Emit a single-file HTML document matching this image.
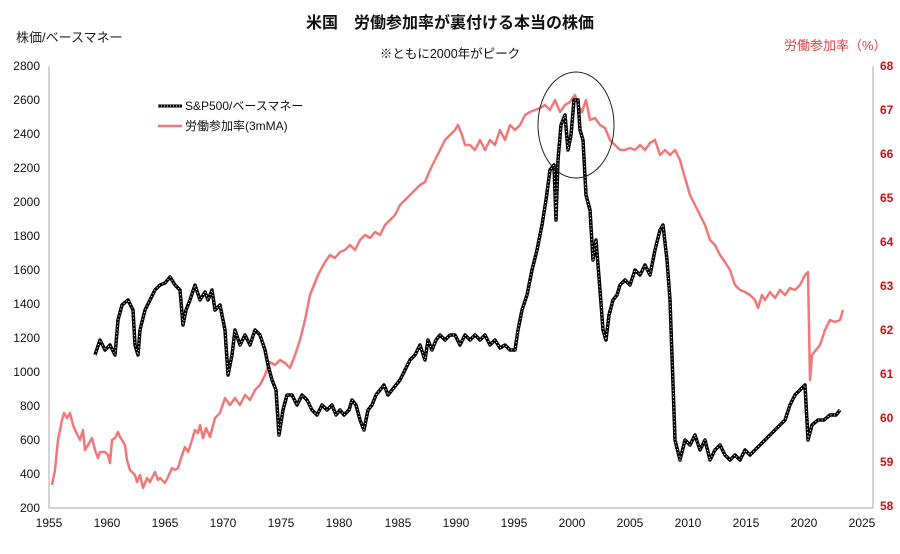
<!DOCTYPE html>
<html><head><meta charset="utf-8"><style>
body{margin:0;background:#fff;}
svg text{font-family:"Liberation Sans","Noto Sans CJK JP",sans-serif;}
</style></head><body>
<svg width="900" height="549" viewBox="0 0 900 549" xmlns="http://www.w3.org/2000/svg">
<rect width="900" height="549" fill="#fff"/>
<text x="450" y="28" font-size="16" font-weight="bold" text-anchor="middle" fill="#111">米国　労働参加率が裏付ける本当の株価</text>
<text x="450" y="58" font-size="12.5" text-anchor="middle" fill="#111">※ともに2000年がピーク</text>
<text x="16" y="42" font-size="13" fill="#222">株価/ベースマネー</text>
<text x="784" y="50" font-size="13" fill="#e04040">労働参加率（%）</text>
<g stroke="#aaa" stroke-width="1" fill="none">
<line x1="49" y1="66" x2="49" y2="508"/>
<line x1="49" y1="508" x2="873" y2="508"/>
<line x1="873" y1="66" x2="873" y2="508"/>
</g>
<g font-size="12" fill="#111" text-anchor="end">
<text x="40" y="70">2800</text><text x="40" y="104">2600</text><text x="40" y="138">2400</text><text x="40" y="172">2200</text><text x="40" y="206">2000</text><text x="40" y="240">1800</text><text x="40" y="274">1600</text><text x="40" y="308">1400</text><text x="40" y="342">1200</text><text x="40" y="376">1000</text><text x="40" y="410">800</text><text x="40" y="444">600</text><text x="40" y="478">400</text><text x="40" y="512">200</text>
</g>
<g font-size="12" fill="#cc1111" font-weight="bold">
<text x="880" y="70">68</text><text x="880" y="114">67</text><text x="880" y="158">66</text><text x="880" y="202">65</text><text x="880" y="246">64</text><text x="880" y="290">63</text><text x="880" y="334">62</text><text x="880" y="378">61</text><text x="880" y="422">60</text><text x="880" y="466">59</text><text x="880" y="510">58</text>
</g>
<g font-size="12" fill="#111" text-anchor="middle">
<text x="49" y="527">1955</text><text x="107" y="527">1960</text><text x="165" y="527">1965</text><text x="223" y="527">1970</text><text x="281" y="527">1975</text><text x="339" y="527">1980</text><text x="398" y="527">1985</text><text x="456" y="527">1990</text><text x="514" y="527">1995</text><text x="572" y="527">2000</text><text x="630" y="527">2005</text><text x="688" y="527">2010</text><text x="746" y="527">2015</text><text x="804" y="527">2020</text><text x="862" y="527">2025</text>
</g>
<polyline fill="none" stroke="#f07878" stroke-width="2.5" stroke-linejoin="round" points="52,485 55,470 58,440 62,420 64,413 67,418 70,413 73,425 76,432 80,440 83,430 85,450 88,445 92,438 95,450 98,458 100,452 105,452 108,455 110,463 112,440 115,438 118,432 120,437 125,445 127,460 130,470 135,475 137,482 140,475 143,488 147,478 150,482 155,472 158,480 160,478 165,483 168,477 172,468 175,470 178,468 182,455 185,447 188,452 192,440 195,430 198,433 200,425 203,438 206,428 210,437 215,418 220,413 225,398 230,405 235,398 240,405 245,395 250,400 255,390 260,385 265,375 270,362 275,365 280,360 285,363 290,368 295,355 300,340 305,320 310,295 318,275 325,262 330,255 335,258 340,252 345,250 350,245 355,250 360,240 365,235 370,238 375,232 380,235 385,225 390,220 395,215 400,205 405,200 410,195 415,190 420,185 425,182 430,170 435,160 440,150 445,140 450,135 455,130 458,125 462,135 465,145 470,145 475,150 480,140 485,150 490,140 495,145 500,130 505,140 510,125 515,130 520,125 525,115 530,112 535,110 540,108 545,105 550,110 555,100 560,112 565,105 570,102 575,95 578,105 582,112 586,100 590,120 595,118 600,125 605,128 610,140 615,145 620,150 625,150 630,148 635,150 640,145 645,150 650,143 655,140 660,155 665,150 670,155 675,150 680,160 685,178 690,195 695,205 700,215 705,225 710,240 715,245 720,255 725,262 730,270 735,285 740,290 745,292 750,295 755,300 758,308 762,295 765,300 770,292 775,298 780,290 785,295 790,288 795,290 800,285 805,275 808,272 810,380 812,355 816,350 820,345 825,330 830,320 835,322 840,320 843,310"/>
<g fill="none" stroke-linejoin="round">
<polyline id="b" stroke="#000" stroke-width="3.5" points="95,355 100,340 105,350 110,345 115,355 118,320 122,305 128,300 133,310 135,345 138,355 140,330 145,310 150,300 155,290 160,285 165,283 170,277 175,285 180,290 183,325 186,310 190,300 195,285 200,300 205,292 208,300 212,290 215,310 220,305 225,330 228,375 232,355 235,330 240,345 245,335 250,345 255,330 260,335 265,350 268,365 272,380 276,390 279,435 283,410 287,395 292,395 297,405 302,395 307,400 312,410 317,415 322,405 327,410 332,405 336,415 340,410 344,415 349,410 352,400 356,405 360,420 364,430 368,410 372,405 376,395 380,390 384,385 388,395 392,390 396,385 400,380 405,370 410,360 415,355 420,345 425,360 428,340 432,350 436,340 440,335 445,340 450,335 455,335 460,345 465,335 470,340 475,335 480,340 485,335 490,345 495,340 500,348 505,345 510,350 515,350 518,330 522,310 527,295 532,270 537,250 542,225 546,200 550,170 554,165 556,220 558,160 561,125 565,115 568,150 571,135 574,100 578,100 580,130 583,140 586,195 590,210 593,260 596,240 600,290 603,330 606,340 609,315 613,300 617,295 620,285 625,280 630,285 635,270 640,275 645,265 650,275 655,250 660,230 663,225 667,260 670,300 675,440 680,460 685,440 690,445 695,435 700,450 705,440 710,460 715,450 720,445 725,455 730,460 735,455 740,460 745,450 750,455 755,450 760,445 765,440 770,435 775,430 780,425 785,420 790,405 795,395 800,390 805,385 808,440 812,425 818,420 824,420 830,415 836,415 840,410"/>
<polyline stroke="#fff" stroke-width="1" stroke-dasharray="1 2.5" points="95,355 100,340 105,350 110,345 115,355 118,320 122,305 128,300 133,310 135,345 138,355 140,330 145,310 150,300 155,290 160,285 165,283 170,277 175,285 180,290 183,325 186,310 190,300 195,285 200,300 205,292 208,300 212,290 215,310 220,305 225,330 228,375 232,355 235,330 240,345 245,335 250,345 255,330 260,335 265,350 268,365 272,380 276,390 279,435 283,410 287,395 292,395 297,405 302,395 307,400 312,410 317,415 322,405 327,410 332,405 336,415 340,410 344,415 349,410 352,400 356,405 360,420 364,430 368,410 372,405 376,395 380,390 384,385 388,395 392,390 396,385 400,380 405,370 410,360 415,355 420,345 425,360 428,340 432,350 436,340 440,335 445,340 450,335 455,335 460,345 465,335 470,340 475,335 480,340 485,335 490,345 495,340 500,348 505,345 510,350 515,350 518,330 522,310 527,295 532,270 537,250 542,225 546,200 550,170 554,165 556,220 558,160 561,125 565,115 568,150 571,135 574,100 578,100 580,130 583,140 586,195 590,210 593,260 596,240 600,290 603,330 606,340 609,315 613,300 617,295 620,285 625,280 630,285 635,270 640,275 645,265 650,275 655,250 660,230 663,225 667,260 670,300 675,440 680,460 685,440 690,445 695,435 700,450 705,440 710,460 715,450 720,445 725,455 730,460 735,455 740,460 745,450 750,455 755,450 760,445 765,440 770,435 775,430 780,425 785,420 790,405 795,395 800,390 805,385 808,440 812,425 818,420 824,420 830,415 836,415 840,410"/>
</g>
<ellipse cx="576" cy="125" rx="38" ry="53" fill="none" stroke="#222" stroke-width="1"/>
<line x1="158" y1="106" x2="182" y2="106" stroke="#000" stroke-width="3"/>
<line x1="158" y1="106" x2="182" y2="106" stroke="#fff" stroke-width="1" stroke-dasharray="1 2"/>
<text x="185" y="110" font-size="12" fill="#111">S&amp;P500/ベースマネー</text>
<line x1="158" y1="126" x2="182" y2="126" stroke="#f07878" stroke-width="2.5"/>
<text x="185" y="130" font-size="12" fill="#111">労働参加率(3mMA)</text>
</svg>
</body></html>
